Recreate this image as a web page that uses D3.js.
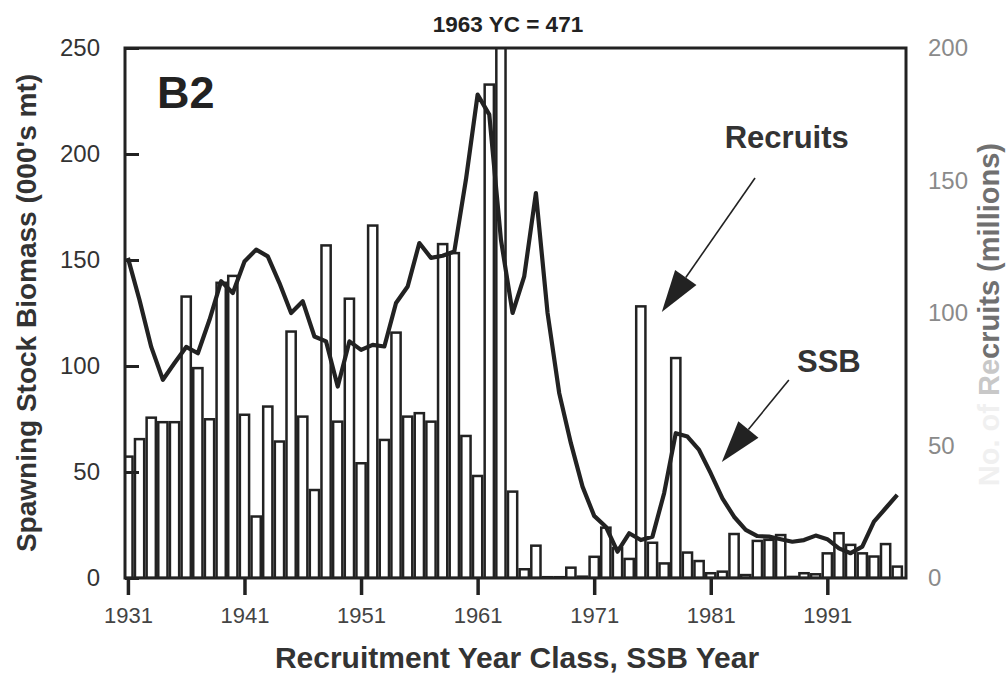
<!DOCTYPE html>
<html>
<head>
<meta charset="utf-8">
<script src="https://cdn.jsdelivr.net/npm/d3@7"></script>
<style>
  body { margin: 0; background: #fff; }
  svg { display: block; font-family: "Liberation Sans", Arial, sans-serif; }
</style>
</head>
<body>
<div id="chart"></div>
<script>
// recruitment year class / SSB year
var years = d3.range(1931, 1998);

// recruits (millions), right axis -- 1963 goes off the top (471)
var recruits = [
  45.8, 52.4, 60.5, 58.8, 58.8, 106.2, 79.2, 59.9, 111.4, 114,
  61.6, 23.2, 64.7, 51.5, 93, 60.9, 33.2, 125.5, 59, 105.4,
  43.3, 133, 52.1, 92.6, 60.9, 62.2, 59, 126, 122.6, 53.6,
  38.5, 186.2, 471, 32.6, 3.3, 12.2, 0.3, 0.3, 3.9, 0.5,
  8, 19, 11.3, 7.2, 102.5, 13.3, 5.5, 83, 9.6, 6.4,
  1.8, 2.4, 16.6, 1.1, 14, 14.4, 16.2, 0.4, 1.8, 1.4,
  9.3, 16.9, 12.5, 9.3, 8.1, 12.8, 4.3
];

// spawning stock biomass (000's mt), left axis
var ssb = [
  151, 131, 109, 93.5, 101.4, 109, 106, 121.8, 140, 134.4,
  149.3, 154.9, 151.7, 139.1, 125, 130.5, 113.9, 111.6, 90.3, 111.6,
  107.6, 110, 109.2, 129.7, 137.5, 158, 151, 152, 154, 188,
  228, 218.6, 159.6, 125, 142.3, 181.6, 125, 87.2, 63.6, 43.1,
  29.3, 24.2, 12.4, 21.1, 17.9, 19.5, 40, 68.3, 66.7, 60.4,
  49.4, 37.6, 28.9, 22.7, 19.8, 19.5, 18.3, 17.1, 17.9, 20,
  18.3, 14, 11.7, 14.8, 26.6, 32.9, 39.2
];

var ssbTicks = [0, 50, 100, 150, 200, 250];
var recTicks = [0, 50, 100, 150, 200];
var yearTicks = [1931, 1941, 1951, 1961, 1971, 1981, 1991];

var W = 1008, H = 675;
var margin = { top: 48, right: 102, bottom: 97, left: 125 },
    width  = W - margin.left - margin.right,
    height = H - margin.top - margin.bottom;

var ink = '#222';

var svg = d3.select('#chart').append('svg')
    .attr('width', W)
    .attr('height', H);

var g = svg.append('g')
    .attr('transform', 'translate(' + margin.left + ',' + margin.top + ')');

var x  = d3.scaleLinear().domain([1930.75, 1997.75]).range([0, width]);
var yL = d3.scaleLinear().domain([0, 250]).range([height, 0]);
var yR = d3.scaleLinear().domain([0, 200]).range([height, 0]);

var step = x(1932) - x(1931);
var barW = step * 0.79;

svg.append('defs').append('clipPath').attr('id', 'plot')
  .append('rect').attr('width', width).attr('height', height);

// recruit bars
g.append('g')
    .attr('clip-path', 'url(#plot)')
  .selectAll('rect')
  .data(years)
  .enter()
  .append('rect')
    .attr('x', d => x(d) - barW / 2)
    .attr('y', (d, i) => yR(recruits[i]))
    .attr('width', barW)
    .attr('height', (d, i) => height - yR(recruits[i]))
    .attr('fill', '#fff')
    .attr('stroke', ink)
    .attr('stroke-width', 2.5);

// SSB line
var line = d3.line()
    .x((d, i) => x(years[i]))
    .y(d => yL(d));

g.append('path')
    .datum(ssb)
    .attr('d', line)
    .attr('fill', 'none')
    .attr('stroke', ink)
    .attr('stroke-width', 4.2)
    .attr('stroke-linejoin', 'round');

// frame
g.append('rect')
    .attr('width', width)
    .attr('height', height)
    .attr('fill', 'none')
    .attr('stroke', ink)
    .attr('stroke-width', 3);

// left axis, ticks pointing in
var axL = g.append('g')
    .call(d3.axisLeft(yL).tickValues(ssbTicks).tickSize(-14).tickPadding(25));
axL.select('.domain').remove();
axL.selectAll('line').attr('stroke', ink).attr('stroke-width', 3);
axL.selectAll('text').attr('font-size', 24).attr('fill', '#333');

// right axis, labels only
var axR = g.append('g')
    .attr('transform', 'translate(' + width + ',0)')
    .call(d3.axisRight(yR).tickValues(recTicks).tickSize(0).tickPadding(22));
axR.select('.domain').remove();
axR.selectAll('text')
    .attr('font-size', 24)
    .attr('font-weight', 300)
    .attr('fill', '#8a8a8a');

// bottom axis
var axB = g.append('g')
    .attr('transform', 'translate(0,' + height + ')')
    .call(d3.axisBottom(x).tickValues(yearTicks).tickFormat(d3.format('d')).tickSize(17).tickPadding(12));
axB.select('.domain').remove();
axB.selectAll('line').attr('stroke', ink).attr('stroke-width', 3.5);
axB.selectAll('text').attr('font-size', 22).attr('fill', '#444');

// titles
svg.append('text')
    .attr('x', 508).attr('y', 32)
    .attr('text-anchor', 'middle')
    .attr('font-size', 22.5).attr('font-weight', 'bold').attr('fill', ink)
    .text('1963 YC = 471');

g.append('text')
    .attr('x', 32).attr('y', 60)
    .attr('font-size', 45).attr('font-weight', 'bold').attr('fill', ink)
    .text('B2');

svg.append('text')
    .attr('transform', 'translate(36,' + (margin.top + height / 2) + ') rotate(-90)')
    .attr('text-anchor', 'middle')
    .attr('font-size', 28).attr('font-weight', 'bold').attr('fill', '#333')
    .text("Spawning Stock Biomass (000's mt)");

var rl = svg.append('text')
    .attr('transform', 'translate(999,143) rotate(-90)')
    .attr('text-anchor', 'end')
    .attr('font-size', 29).attr('font-weight', 'bold');
rl.append('tspan').attr('fill', '#f0f0f0').text('No. of ');
rl.append('tspan').attr('fill', '#c8c8c8').text('Re');
rl.append('tspan').attr('fill', '#707070').text('cruits (millions)');

svg.append('text')
    .attr('x', 517).attr('y', 668)
    .attr('text-anchor', 'middle')
    .attr('font-size', 30).attr('font-weight', 'bold').attr('fill', '#333')
    .text('Recruitment Year Class, SSB Year');

// annotations: arrows in data units (x year, y on SSB axis)
var notes = [
  { label: 'Recruits', tx: 1982.2, ty: 203, from: [1984.8, 188.7], tip: [1976.8, 125.5] },
  { label: 'SSB',      tx: 1988.4, ty: 97,  from: [1987.7, 93.4],  tip: [1981.95, 54.7] }
];

notes.forEach(function (n) {
  var sx = x(n.from[0]), sy = yL(n.from[1]);
  var tx = x(n.tip[0]),  ty = yL(n.tip[1]);
  var dx = sx - tx, dy = sy - ty, len = Math.sqrt(dx * dx + dy * dy);
  var ux = dx / len, uy = dy / len;
  var L = 42, hw = 13;
  var bx = tx + ux * L, by = ty + uy * L;

  g.append('line')
      .attr('x1', sx).attr('y1', sy)
      .attr('x2', bx).attr('y2', by)
      .attr('stroke', ink).attr('stroke-width', 1.6);

  g.append('path')
      .attr('d', 'M' + tx + ',' + ty +
                 'L' + (bx - uy * hw) + ',' + (by + ux * hw) +
                 'L' + (bx + uy * hw) + ',' + (by - ux * hw) + 'Z')
      .attr('fill', ink);

  g.append('text')
      .attr('x', x(n.tx)).attr('y', yL(n.ty))
      .attr('font-size', 31).attr('font-weight', 'bold').attr('fill', '#333')
      .text(n.label);
});
</script>
</body>
</html>
